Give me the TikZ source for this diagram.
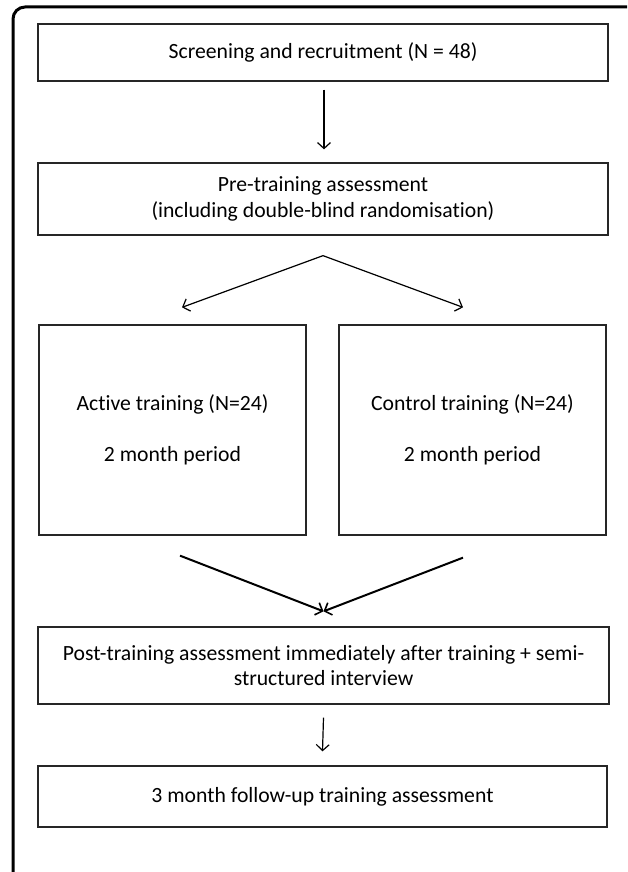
\documentclass[tikz,border=0pt]{standalone}
\usepackage{fontspec}
\setmainfont{Carlito}[RawFeature=-liga]
\usetikzlibrary{arrows.meta}
\begin{document}
\begin{tikzpicture}[x=1pt,y=-1pt,
  box/.style={draw=black!85,line width=1.3pt,inner sep=0pt,align=center,
    font=\fontsize{21.7}{25.5}\selectfont},
  thinarrow/.style={line width=1.2pt,-{Straight Barb[length=6pt,width=13pt,line width=1.2pt]}},
  thickarrow/.style={line width=2pt,-{Straight Barb[length=6pt,width=13pt,line width=1.6pt]}}]
\useasboundingbox (0,0) rectangle (627,872);
% outer frame
\draw[line width=3pt,rounded corners=12pt] (13,872) -- (13,7) -- (627,7);
\node[box,minimum width=570pt,minimum height=57pt] (b1) at (323,52.5) {Screening and recruitment (N = 48)};
\node[box,minimum width=570pt,minimum height=72pt] (b2) at (323,199) {Pre-training assessment\\(including double-blind randomisation)};
\node[box,minimum width=267pt,minimum height=210pt] (b3) at (172.5,430) {Active training (N=24)\\[26pt]2 month period};
\node[box,minimum width=267pt,minimum height=210pt] (b4) at (472.5,430) {Control training (N=24)\\[26pt]2 month period};
\node[box,minimum width=571pt,minimum height=77pt] (b5) at (323.5,665.5) {Post-training assessment immediately after training + semi-\\structured interview};
\node[box,minimum width=569pt,minimum height=61pt] (b6) at (322.5,796.5) {3 month follow-up training assessment};
\coordinate (apex) at ([yshift=-20pt]b2.south);
\coordinate (merge) at ([yshift=15pt]b5.north);
\draw[thinarrow] ([xshift=1pt,yshift=-8pt]b1.south) -- ([xshift=1pt,yshift=13pt]b2.north);
\draw[thinarrow] (apex) -- ([xshift=9.5pt,yshift=17pt]b3.north);
\draw[thinarrow] (apex) -- ([xshift=-9.5pt,yshift=17pt]b4.north);
\draw[thickarrow] ([xshift=7.5pt,yshift=-20pt]b3.south) -- (merge);
\draw[thickarrow] ([xshift=-9.5pt,yshift=-22pt]b4.south) -- (merge);
\draw[thinarrow] ([yshift=-13pt]b5.south) -- ([yshift=14pt]b6.north);
\end{tikzpicture}
\end{document}
